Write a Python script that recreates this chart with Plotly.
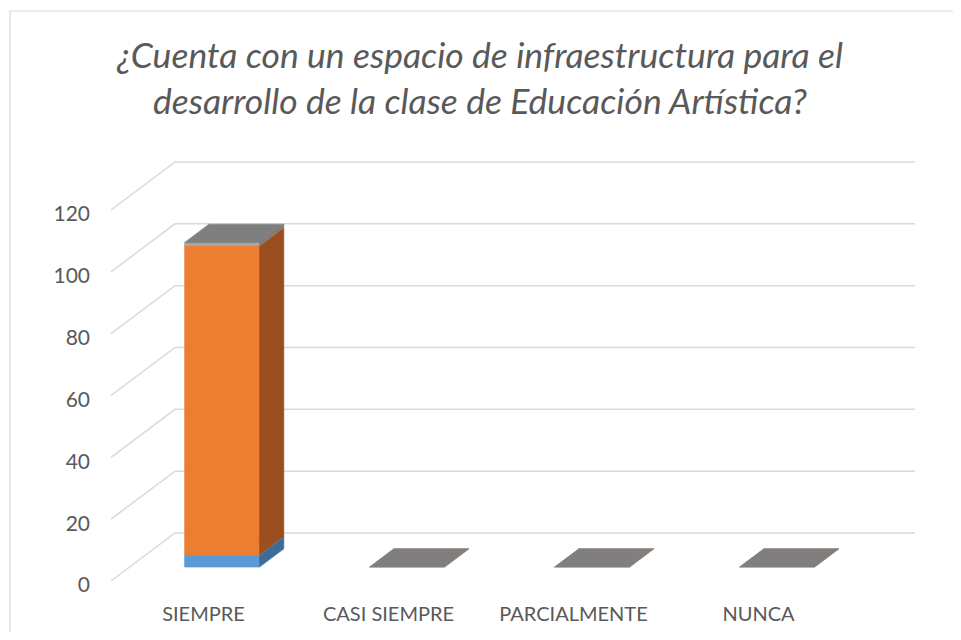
import plotly.graph_objects as go

# ---- data ----
categories = ["SIEMPRE", "CASI SIEMPRE", "PARCIALMENTE", "NUNCA"]
series_names = ["Frecuencia", "Porcentaje", "Frecuencia relativa"]
blue_values = [4, 0, 0, 0]
orange_values = [100, 0, 0, 0]
grey_values = [1, 0, 0, 0]
y_ticks = [0, 20, 40, 60, 80, 100, 120]

# ---- styling / geometry (figure pixels; page has an 8px body margin) ----
W, H = 945, 624
ML, MR, MT, MB = 83, 0, 0, 32
PX_PER_UNIT = 371 / 120          # vertical pixels per value unit
CAT_PX = 185                     # pixels per category
X0_PX = 103                      # front-left corner of the floor
Y0_PX = 573                      # value 0 on the front plane
DX = 64 / CAT_PX                 # oblique depth offset (category units)
DY = 48 / PX_PER_UNIT            # oblique depth offset (value units)
BAR_W = 0.405
T_FRONT, T_BACK = 0.29, 0.67

front_cols = ["#5B9BD5", "#ED7D31", "#A5A5A5"]
side_cols = ["#3C6D99", "#9C4F1E", "#7A7A7A"]
top_cols = ["#8DB8E2", "#F2A46E", "#7F7F7F"]
GRID = "#D9D9D9"
TXT = "#595959"

fig = go.Figure()


def P(x, v, t):
    return x + t * DX, v + t * DY


def poly(pts, color):
    xs = [p[0] for p in pts] + [pts[0][0]]
    ys = [p[1] for p in pts] + [pts[0][1]]
    fig.add_trace(go.Scatter(x=xs, y=ys, mode="lines", fill="toself",
                             fillcolor=color, line=dict(color=color, width=0.6),
                             hoverinfo="skip", showlegend=False))


# gridlines: left wall diagonal + back wall horizontal
gx, gy = [], []
n = len(categories)
for v in y_ticks:
    a = P(0, v, 0)
    b = P(0, v, 1)
    c = P(n, v, 1)
    gx += [a[0], b[0], c[0], None]
    gy += [a[1], b[1], c[1], None]
fig.add_trace(go.Scatter(x=gx, y=gy, mode="lines", line=dict(color=GRID, width=1.5),
                         hoverinfo="skip", showlegend=False))

# stacked 3D columns
all_series = [blue_values, orange_values, grey_values]
for i in range(n):
    L = i + 0.5 - BAR_W / 2
    R = i + 0.5 + BAR_W / 2
    base = 0
    for s, vals in enumerate(all_series):
        h = vals[i]
        top = base + h
        if h > 0:
            poly([P(L, base, T_FRONT), P(R, base, T_FRONT), P(R, top, T_FRONT), P(L, top, T_FRONT)], front_cols[s])
            poly([P(R, base, T_FRONT), P(R, base, T_BACK), P(R, top, T_BACK), P(R, top, T_FRONT)], side_cols[s])
        poly([P(L, top, T_FRONT), P(R, top, T_FRONT), P(R, top, T_BACK), P(L, top, T_BACK)], top_cols[s])
        base = top

plot_h = H - MT - MB
plot_w = W - ML - MR
x_min = (ML - X0_PX) / CAT_PX
x_max = (W - MR - X0_PX) / CAT_PX
y_min = -((H - MB) - Y0_PX) / PX_PER_UNIT
y_max = (Y0_PX - MT) / PX_PER_UNIT

# chart border (left and top visible)
fig.add_shape(type="rect", xref="paper", yref="paper",
              x0=(2 - ML) / plot_w, x1=(975 - ML) / plot_w,
              y0=1 - (655 - MT) / plot_h, y1=1 - (3 - MT) / plot_h,
              line=dict(color="#D9D9D9", width=1.2), fillcolor="rgba(0,0,0,0)", layer="below")

fig.update_layout(
    width=W, height=H,
    margin=dict(l=ML, r=MR, t=MT, b=MB),
    paper_bgcolor="white", plot_bgcolor="white",
    showlegend=False,
    title=dict(text="¿Cuenta con un espacio de infraestructura para el<br>desarrollo de la clase de Educación Artística?",
               x=(480 - 8) / W, xref="container", xanchor="center",
               y=1 - 60 / H, yref="container", yanchor="top",
               font=dict(family="Lato", size=35.5, color=TXT, style="italic")),
    xaxis=dict(range=[x_min, x_max], tickvals=[i + 0.5 for i in range(n)], ticktext=categories,
               showgrid=False, zeroline=False, showline=False, ticks="",
               tickfont=dict(family="Lato", size=20, color=TXT)),
    yaxis=dict(range=[y_min, y_max], tickvals=y_ticks, showgrid=False, zeroline=False,
               showline=False, ticks="", ticklabelshift=4,
               tickfont=dict(family="Lato", size=21, color=TXT)),
)

fig.write_html("out.html")
